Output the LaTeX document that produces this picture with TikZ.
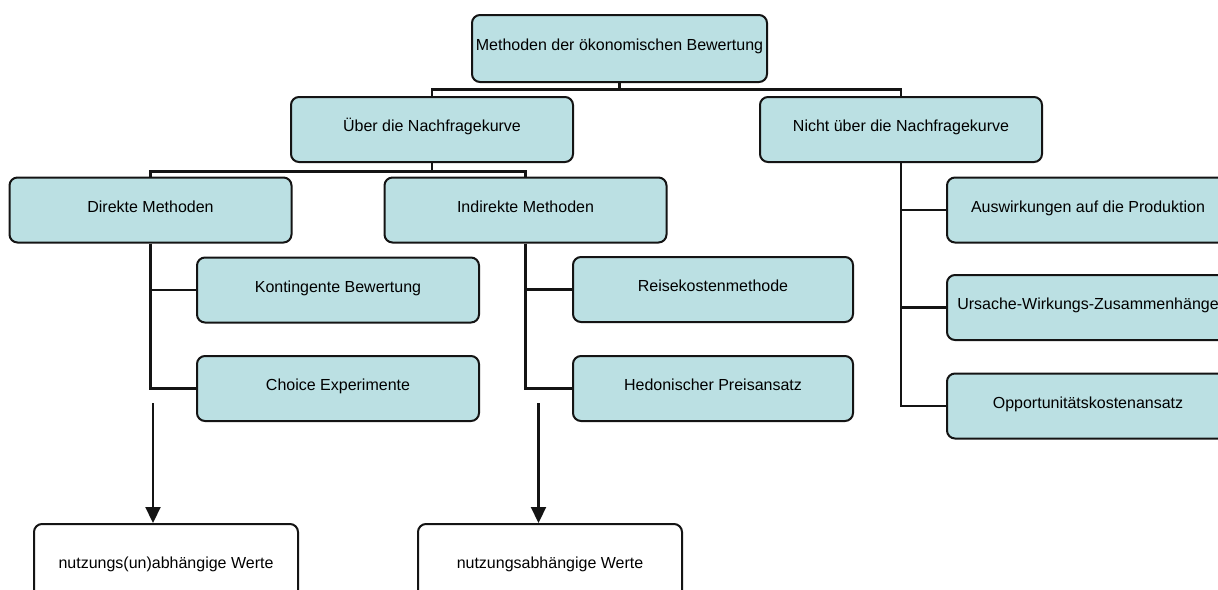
\documentclass[tikz,border=0pt]{standalone}
\usepackage{fontspec}
\setmainfont{Liberation Sans}
\usetikzlibrary{arrows.meta}
\definecolor{boxfill}{RGB}{187,224,227}
\definecolor{edge}{RGB}{20,20,20}
\tikzset{
  box/.style={draw=edge, line width=2pt, rounded corners=8pt, fill=boxfill,
    minimum width=282pt, minimum height=65pt, inner sep=0pt, align=center,
    text height=12pt, text depth=8pt,
    font=\fontsize{16}{19}\selectfont},
  wbox/.style={box, fill=white, minimum width=264pt, minimum height=84pt},
  conn/.style={draw=edge, line width=2.2pt},
  arr/.style={draw=edge, line width=2.2pt, -{Triangle[width=15pt,length=16pt]}}
}
\begin{document}
\begin{tikzpicture}[x=1pt,y=-1pt]
\useasboundingbox (0,0) rectangle (1218,589);
\clip (0,0) rectangle (1218,589);
\fill[white] (0,0) rectangle (1218,589);

\node[box, minimum width=295pt, minimum height=67pt] (top) at (619.5,48.5) {Methoden der ökonomischen Bewertung};
\node[box] (ueber) at (432,129.5) {Über die Nachfragekurve};
\node[box] (nicht) at (901,129.5) {Nicht über die Nachfragekurve};
\node[box] (direkt) at (150.5,210) {Direkte Methoden};
\node[box] (indirekt) at (525.5,210) {Indirekte Methoden};
\node[box] (kont) at (338,290) {Kontingente Bewertung};
\node[box] (choice) at (338,388.5) {Choice Experimente};
\node[box, minimum width=280pt] (reise) at (713,289.5) {Reisekostenmethode};
\node[box, minimum width=280pt] (hedon) at (713,388.5) {Hedonischer Preisansatz};
\node[box] (ausw) at (1088,210) {Auswirkungen auf die Produktion};
\node[box] (ursache) at (1088,307.5) {Ursache-Wirkungs-Zusammenhänge};
\node[box] (opport) at (1088,406) {Opportunitätskostenansatz};
\node[wbox] (nutz1) at (166,566) {nutzungs(un)abhängige Werte};
\node[wbox] (nutz2) at (550,566) {nutzungsabhängige Werte};

\draw[conn] (top.south) -- ++(0,6.5) -| (ueber.north);
\draw[conn] (top.south) -- ++(0,6.5) -| (nicht.north);
\draw[conn] (ueber.south) -- ++(0,8.5) -| (direkt.north);
\draw[conn] (ueber.south) -- ++(0,8.5) -| (indirekt.north);
\draw[conn] (direkt.south) |- (kont.west);
\draw[conn] (direkt.south) |- (choice.west);
\draw[conn] (indirekt.south) |- (reise.west);
\draw[conn] (indirekt.south) |- (hedon.west);
\draw[conn] (nicht.south) |- (ausw.west);
\draw[conn] (nicht.south) |- (ursache.west);
\draw[conn] (nicht.south) |- (opport.west);

\coordinate (a1) at (153,403);
\coordinate (a2) at (538.5,403);
\draw[arr] (a1) -- (a1 |- nutz1.north);
\draw[arr] (a2) -- (a2 |- nutz2.north);
\end{tikzpicture}
\end{document}
